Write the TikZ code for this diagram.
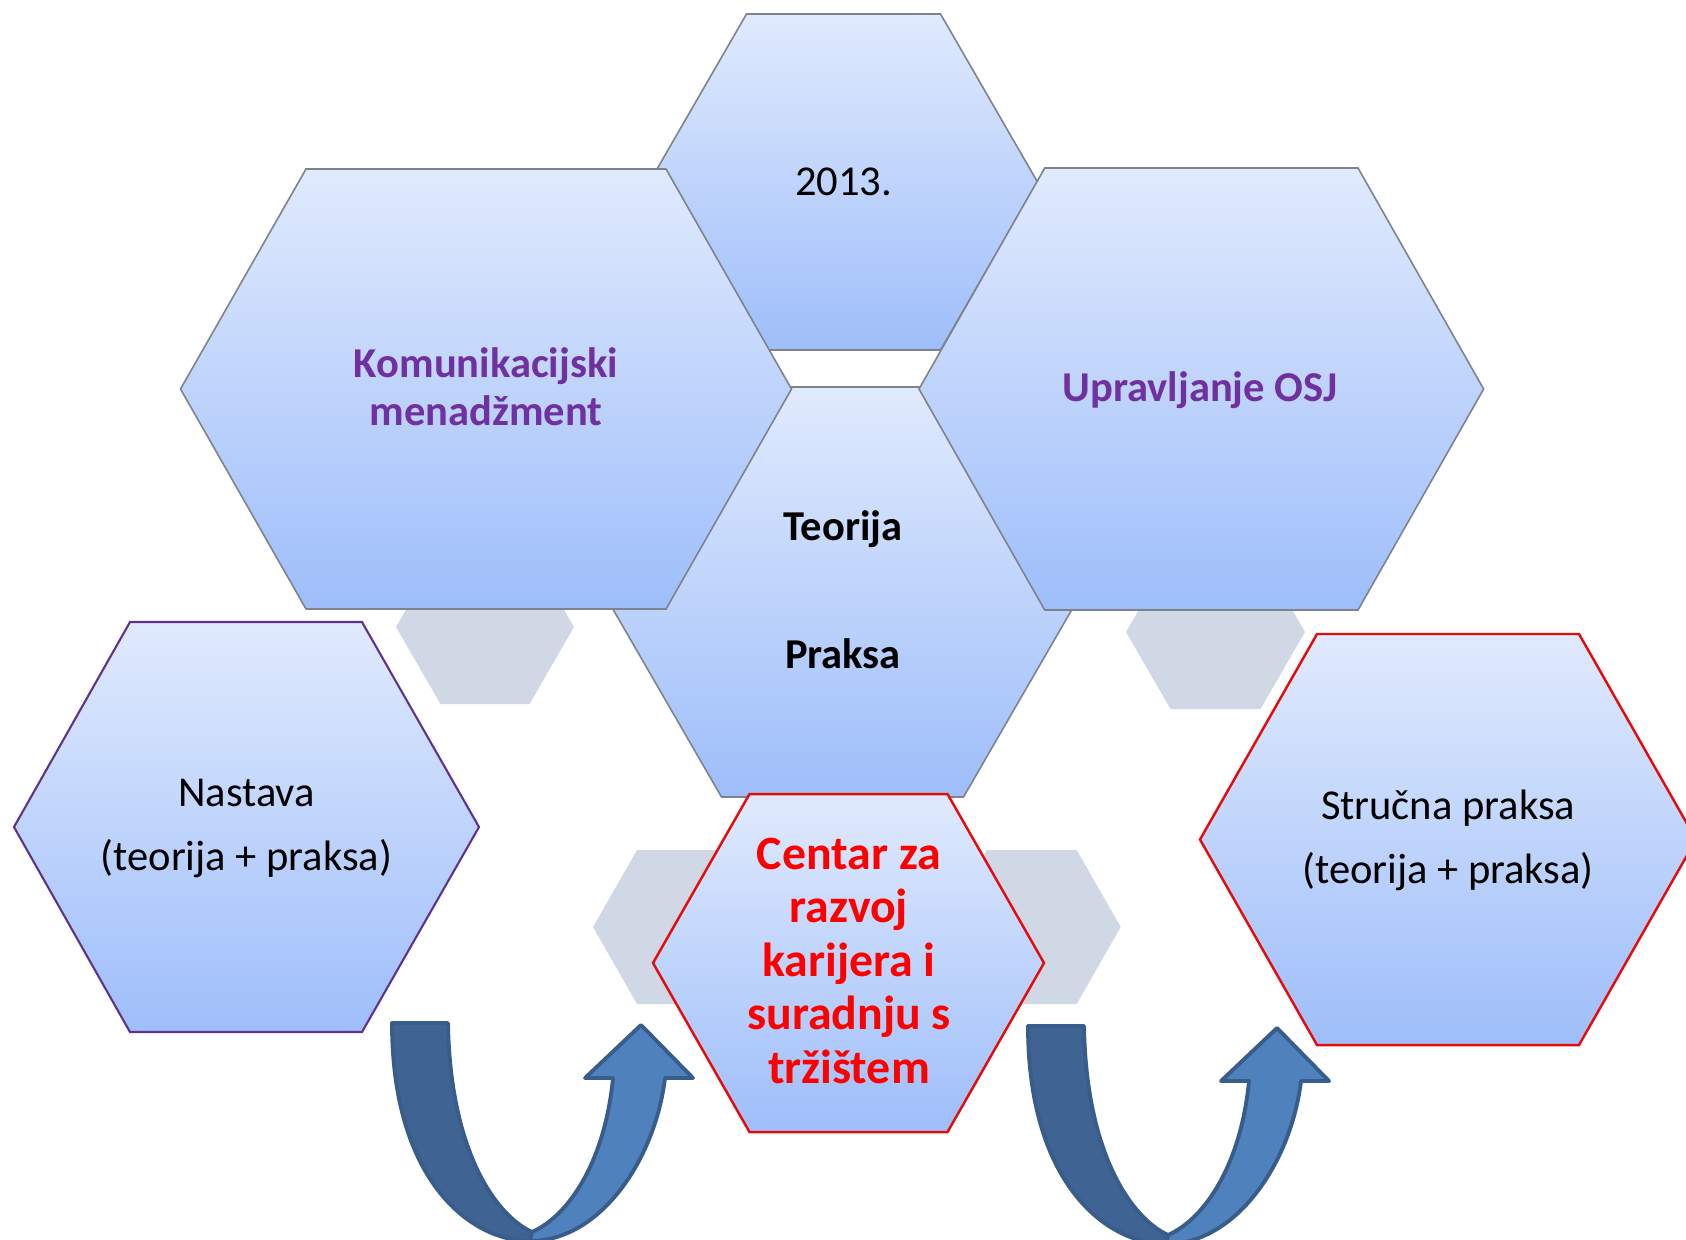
\documentclass[tikz,border=0pt]{standalone}
\usepackage{fontspec}
\setmainfont{Carlito}
\definecolor{hextop}{RGB}{224,234,253}
\definecolor{hexbot}{RGB}{158,190,250}
\definecolor{hexline}{RGB}{125,130,140}
\definecolor{hexgray}{RGB}{208,216,230}
\definecolor{violetline}{RGB}{96,50,140}
\definecolor{violettext}{RGB}{112,48,160}
\definecolor{redline}{RGB}{230,10,10}
\definecolor{arrowdark}{RGB}{63,100,148}
\definecolor{arrowlight}{RGB}{79,129,189}
\definecolor{arrowline}{RGB}{56,93,138}

\begin{document}
\begin{tikzpicture}[x=0.01cm,y=-0.01cm,
                hexa/.style={top color=hextop,bottom color=hexbot,draw=hexline,line width=0.45pt},
                backhex/.style={fill=hexgray},
                normaltext/.style={font=\fontsize{12.1}{18.2}\selectfont,align=center,anchor=base},
                boldtext/.style={font=\fontsize{12.1}{13.5}\selectfont\bfseries,align=center,anchor=base},
                redtext/.style={font=\fontsize{13.6}{15.2}\selectfont\bfseries,text=red,align=center,anchor=base},
                darkband/.style={fill=arrowdark,draw=arrowline,line width=1.1pt,line join=round},
                lightband/.style={fill=arrowlight,draw=arrowline,line width=1.1pt,line join=round}
                ]
            \useasboundingbox (0,0) rectangle (1686,1239);
            \clip (0,0) rectangle (1686,1239);

            \fill[backhex] (396,627) -- (440.5,550) -- (529.5,550) -- (574,627) -- (529.5,704) -- (440.5,704) -- cycle;
            \fill[backhex] (1126,632) -- (1170.5,555) -- (1260.5,555) -- (1305,632) -- (1260.5,709) -- (1170.5,709) -- cycle;
            \fill[backhex] (593,927) -- (637,850) -- (727,850) -- (771,927) -- (727,1004) -- (637,1004) -- cycle;
            \fill[backhex] (942.7,927) -- (986.7,850) -- (1076.7,850) -- (1120.7,927) -- (1076.7,1004) -- (986.7,1004) -- cycle;

            \draw[hexa] (649.5,182) -- (746.5,14) -- (940.5,14) -- (1037.5,182) -- (940.5,350) -- (746.5,350) -- cycle;
            \draw[hexa] (603,592) -- (721.5,387) -- (963.5,387) -- (1082,592) -- (963.5,797) -- (721.5,797) -- cycle;
            \draw[hexa] (180.5,389) -- (306,169) -- (666,169) -- (791.5,389) -- (666,609) -- (306,609) -- cycle;
            \draw[hexa] (919,389) -- (1044.7,168) -- (1358,168) -- (1483.6,389) -- (1358,610) -- (1044.7,610) -- cycle;
            \draw[hexa,draw=violetline,line width=0.6pt] (14,827) -- (130,622) -- (362,622) -- (479,827) -- (362,1032) -- (130,1032) -- cycle;
            \draw[hexa,draw=redline,line width=0.7pt] (1200,839.5) -- (1317,634) -- (1579,634) -- (1696,839.5) -- (1579,1045) -- (1317,1045) -- cycle;
            \draw[hexa,draw=redline,line width=0.7pt] (653,963) -- (749.5,794) -- (947.5,794) -- (1044,963) -- (947.5,1132) -- (749.5,1132) -- cycle;

            \node[normaltext] (year) at (843.7,195) {2013.};
            \node[boldtext,text=violettext] (komun) at (486,425) {Komunikacijski\\menadžment};
            \node[boldtext,text=violettext] (osj) at (1200,401) {Upravljanje OSJ};
            \node[boldtext,font=\fontsize{12.1}{36.4}\selectfont\bfseries] (teorija) at (843,668) {Teorija\\Praksa};
            \node[normaltext] (nastava) at (246.5,870.7) {Nastava\\(teorija + praksa)};
            \node[normaltext] (strucna) at (1448,883.3) {Stručna praksa\\(teorija + praksa)};
            \node[redtext] (centar) at (849,1083.3) {Centar za\\razvoj\\karijera i\\suradnju s\\tržištem};

            \begin{scope}
            \draw[darkband] (392,1023) -- (448,1023) .. controls (450,1150) and (495,1215) .. (532,1232)
                -- (530,1241) .. controls (470,1241) and (392,1180) .. (392,1023) -- cycle;
            \draw[lightband] (532,1232) .. controls (570,1215) and (605,1160) .. (613,1078) -- (585,1078) -- (641,1025)
                -- (693,1078) -- (665,1078) .. controls (655,1160) and (600,1241) .. (530,1241) -- cycle;
            \end{scope}

            \begin{scope}[shift={(636,3)}]
            \draw[darkband] (392,1023) -- (448,1023) .. controls (450,1150) and (495,1215) .. (532,1232)
                -- (530,1241) .. controls (470,1241) and (392,1180) .. (392,1023) -- cycle;
            \draw[lightband] (532,1232) .. controls (570,1215) and (605,1160) .. (613,1078) -- (585,1078) -- (641,1025)
                -- (693,1078) -- (665,1078) .. controls (655,1160) and (600,1241) .. (530,1241) -- cycle;
            \end{scope}

            \end{tikzpicture}
\end{document}
